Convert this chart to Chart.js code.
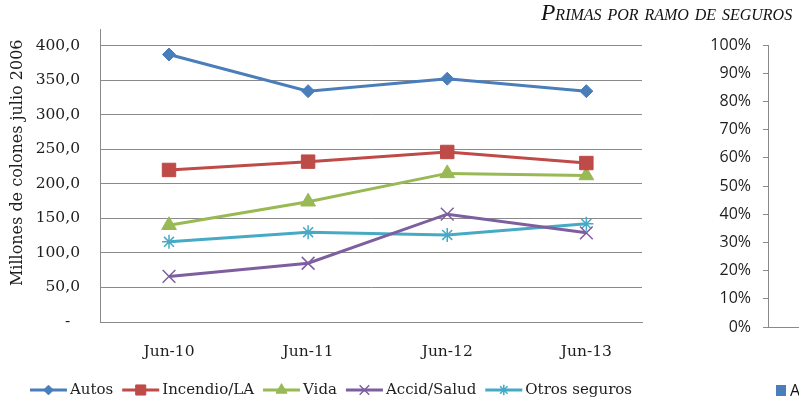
<!DOCTYPE html>
<html>
<head>
<meta charset="utf-8">
<script src="https://cdn.jsdelivr.net/npm/chart.js@4"></script>
<style>
  html, body { margin: 0; padding: 0; background: #fff; }
  body { width: 799px; height: 403px; overflow: hidden; position: relative; }
  #main { position: absolute; left: 0; top: 0; }
  #side { position: absolute; left: 662px; top: 0; }
  #title {
    position: absolute; left: 541px; top: -1px; white-space: nowrap; color: #111;
    font: italic 23.5px 'Liberation Serif', serif; font-variant: small-caps;
  }
  #sideLegend {
    position: absolute; left: 776px; top: 379px; white-space: nowrap; color: #111;
    font: 16px 'Open Sans', sans-serif;
  }
  #sideLegend span { display: inline-block; width: 10px; height: 11px; margin-right: 4px; }
</style>
</head>
<body>
<canvas id="main" width="662" height="403"></canvas>
<canvas id="side" width="137" height="403"></canvas>
<div id="title">Primas por ramo de seguros</div>
<div id="sideLegend"></div>
<script>
const categories = ['Jun-10', 'Jun-11', 'Jun-12', 'Jun-13'];
const autos = [387, 334, 352, 334];
const incendio = [220, 232, 246, 230];
const vida = [140, 174, 215, 212];
const accidSalud = [66, 85, 156, 129];
const otros = [116, 130, 126, 142];
const seriesNames = ['Autos', 'Incendio/LA', 'Vida', 'Accid/Salud', 'Otros seguros'];
const yTicks = [0, 50, 100, 150, 200, 250, 300, 350, 400];
const pctTicks = [0, 10, 20, 30, 40, 50, 60, 70, 80, 90, 100];

const gray = '#8a8a8a';
const textColor = '#1e1e1e';
const serif = "'DejaVu Serif', serif";

function series(label, values, color, style, radius, pbw) {
    return {
        label: label,
        data: values.map((v, i) => ({ x: i, y: v })),
        borderColor: color,
        backgroundColor: color,
        borderWidth: 3,
        pointStyle: style,
        pointRadius: radius,
        pointBorderWidth: pbw,
        pointBackgroundColor: color,
        pointBorderColor: color,
        tension: 0
    };
}

// legend drawn as line + marker like the excel one
const lineLegend = {
    id: 'lineLegend',
    afterDraw(chart) {
        const ctx = chart.ctx;
        ctx.save();
        ctx.font = '15px ' + serif;
        const items = chart.data.datasets.map(ds => ({ ds, w: 40 + ctx.measureText(ds.label).width }));
        const gap = 9;
        const total = items.reduce((s, it) => s + it.w, 0) + gap * (items.length - 1);
        let x = chart.width / 2 - total / 2;
        const y = 390;
        items.forEach(it => {
            const ds = it.ds;
            ctx.strokeStyle = ds.borderColor;
            ctx.lineWidth = 3;
            ctx.beginPath();
            ctx.moveTo(x, y);
            ctx.lineTo(x + 37, y);
            ctx.stroke();
            ctx.fillStyle = ds.borderColor;
            ctx.lineWidth = ds.pointBorderWidth;
            Chart.helpers.drawPoint(ctx, { pointStyle: ds.pointStyle, radius: ds.pointRadius * 0.75, rotation: 0, borderWidth: ds.pointBorderWidth }, x + 18.5, y);
            ctx.fillStyle = textColor;
            ctx.textBaseline = 'middle';
            ctx.textAlign = 'left';
            ctx.fillText(ds.label, x + 40, y);
            x += it.w + gap;
        });
        ctx.restore();
    }
};

new Chart(document.getElementById('main'), {
    type: 'line',
    data: {
        datasets: [
            series(seriesNames[0], autos, '#4a7ebb', 'rectRot', 6.5, 1),
            series(seriesNames[1], incendio, '#be4b48', 'rect', 9.5, 1),
            series(seriesNames[2], vida, '#98b954', 'triangle', 8.5, 1),
            series(seriesNames[3], accidSalud, '#7d5fa0', 'crossRot', 9, 1.5),
            series(seriesNames[4], otros, '#46aac5', 'star', 7, 1.5)
        ]
    },
    plugins: [lineLegend],
    options: {
        responsive: false,
        animation: false,
        layout: { padding: { left: 0, top: 29, right: 20, bottom: 0 } },
        plugins: { legend: { display: false }, tooltip: { enabled: false } },
        scales: {
            x: {
                type: 'linear',
                min: -0.496,
                max: 3.4,
                afterBuildTicks(scale) { scale.ticks = categories.map((c, i) => ({ value: i })); },
                afterFit(scale) { scale.height = 81; },
                grid: { display: false },
                border: { color: gray },
                ticks: {
                    callback: v => categories[v],
                    padding: 13,
                    color: textColor,
                    font: { family: serif, size: 15.5 }
                }
            },
            y: {
                min: 0,
                max: 423.5,
                afterBuildTicks(scale) { scale.ticks = yTicks.map(v => ({ value: v })); },
                afterFit(scale) { scale.width = 100; },
                grid: { color: gray, drawTicks: false },
                border: { color: gray },
                ticks: {
                    callback: v => v === 0 ? '-\u2007' : v.toFixed(1).replace('.', ','),
                    padding: 20,
                    color: textColor,
                    font: { family: serif, size: 15.5 }
                },
                title: {
                    display: true,
                    text: 'Millones de colones julio 2006  ',
                    align: 'end',
                    color: textColor,
                    font: { family: serif, size: 16 },
                    padding: { top: 8, bottom: 0 }
                }
            }
        }
    }
});

new Chart(document.getElementById('side'), {
    type: 'bar',
    data: {
        labels: categories,
        datasets: seriesNames.map(n => ({ label: n, data: [] }))
    },
    options: {
        responsive: false,
        animation: false,
        layout: { padding: { left: 0, top: 45, right: 0, bottom: 0 } },
        plugins: { legend: { display: false }, tooltip: { enabled: false } },
        scales: {
            x: {
                stacked: true,
                grid: { display: false },
                ticks: { display: false },
                border: { color: gray },
                afterFit(scale) { scale.height = 76; }
            },
            y: {
                stacked: true,
                min: 0,
                max: 100,
                afterBuildTicks(scale) { scale.ticks = pctTicks.map(v => ({ value: v })); },
                afterFit(scale) { scale.width = 106; },
                grid: { drawOnChartArea: false, tickLength: 5, color: gray },
                border: { color: gray },
                ticks: {
                    callback: v => v + '%',
                    padding: 12,
                    color: textColor,
                    font: { family: "'Open Sans', sans-serif", size: 16 }
                }
            }
        }
    }
});

document.getElementById('sideLegend').innerHTML =
    '<span style="background:#4a7ebb"></span>' + seriesNames[0];
</script>
</body>
</html>
